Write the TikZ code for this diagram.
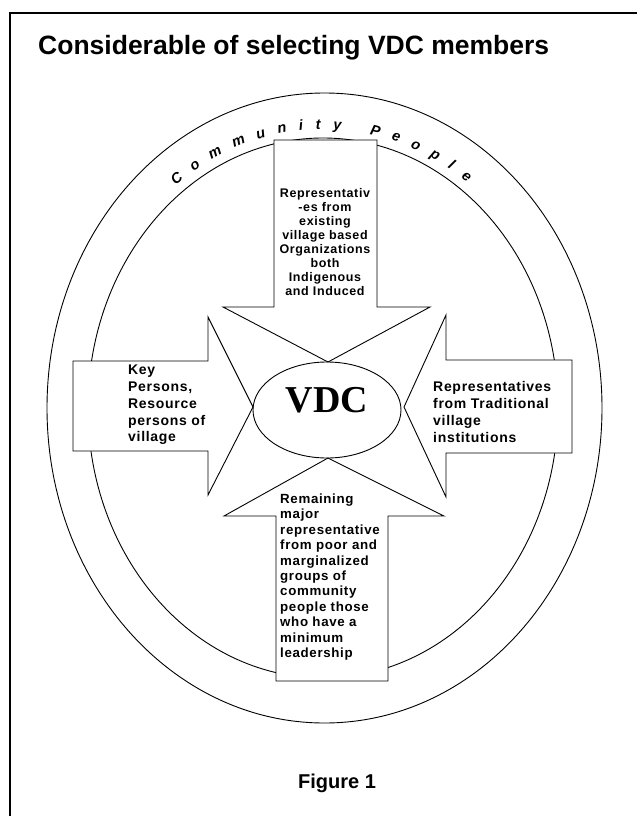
\documentclass[tikz,border=0pt]{standalone}
\usepackage{fontspec}
\setmainfont{Liberation Sans}
\newfontfamily\boxfont[LetterSpace=5]{Liberation Sans}
\newfontfamily\vdcfont{Liberation Serif}
\usetikzlibrary{shapes.geometric,decorations.text}

\begin{document}
\begin{tikzpicture}[x=1pt,y=1pt,
    arrowbox/.style={draw, fill=white, line width=0.9pt, line join=miter},
    ring/.style={draw, line width=0.9pt},
    boxtext/.style={inner sep=0pt, align=left, anchor=west,
      font=\boxfont\bfseries\fontsize{14}{16.7}\selectfont}]
  \useasboundingbox (0,0) rectangle (637,-816);

  % frame and title
  \draw[line width=2.5pt] (10,-816) -- (10,-13) -- (637,-13);
  \node[anchor=base west, inner sep=0pt, font=\bfseries\fontsize{26.5}{30}\selectfont] (title) at (38,-55) {Considerable of selecting VDC members};

  % community ring
  \draw[ring] (324.5,-408) ellipse [x radius=277.5pt, y radius=315pt];
  \draw[ring] (323,-408) ellipse [x radius=235pt, y radius=270pt];
  \path[decorate, decoration={text along path, text align=fit to path,
      text={|\bfseries\itshape\fontsize{14.5}{16}\selectfont|Community People}}]
    (323,-408) ++(127:245pt and 279pt) arc[start angle=127, end angle=54, x radius=245pt, y radius=279pt];

  % the four arrows
  \draw[arrowbox] (274,-140) -- (377,-140) -- (377,-307) -- (430,-307) -- (328,-362) -- (223,-307) -- (274,-307) -- cycle;
  \draw[arrowbox] (73,-361) -- (208,-361) -- (208,-317) -- (253,-407) -- (208,-495) -- (208,-451) -- (73,-451) -- cycle;
  \draw[arrowbox] (572,-360) -- (446,-360) -- (446,-315) -- (404,-407) -- (446,-497) -- (446,-453) -- (572,-453) -- cycle;
  \draw[arrowbox] (276,-681) -- (276,-516) -- (224,-516) -- (328,-458) -- (444,-516) -- (388,-516) -- (388,-681) -- cycle;

  % centre
  \node[draw, ellipse, line width=0.9pt, minimum width=148pt, minimum height=96pt] (vdc) at (327,-410) {};
  \node[font=\vdcfont\bfseries\fontsize{38}{40}\selectfont] (vdctext) at (327,-400) {VDC};

  % arrow texts
  \node[boxtext, align=center, anchor=center, font=\boxfont\bfseries\fontsize{12.5}{14}\selectfont] (orgtext) at (325,-242)
    {Representativ\\-es from\\existing\\village based\\Organizations\\both\\Indigenous\\and Induced};
  \node[boxtext] (keytext) at (128,-405) {Key\\Persons,\\Resource\\persons of\\village};
  \node[boxtext] (tradtext) at (433,-412) {Representatives\\from Traditional\\village\\institutions};
  \node[boxtext, font=\boxfont\bfseries\fontsize{13.3}{15.4}\selectfont] (poortext) at (280,-577)
    {Remaining\\major\\representative\\from poor and\\marginalized\\groups of\\community\\people those\\who have a\\minimum\\leadership};

  \node[anchor=base, font=\bfseries\fontsize{20}{24}\selectfont] (fig) at (337,-788) {Figure 1};
\end{tikzpicture}
\end{document}
